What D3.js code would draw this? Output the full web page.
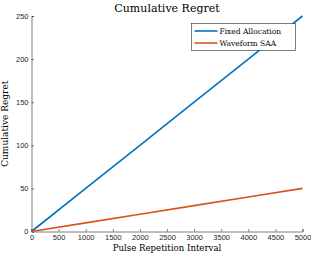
<!DOCTYPE html>
<html>
<head>
<meta charset="utf-8">
<script src="https://cdn.jsdelivr.net/npm/d3@7"></script>
<style>
body { margin: 0; background: #fff; }
.tick text { font-family: "Liberation Sans", Arial, sans-serif; font-size: 7.5px; fill: #262626; }
.lab { font-family: "DejaVu Serif", serif; fill: #000; font-weight: normal; }
</style>
</head>
<body>
<svg id="chart" width="311" height="257"></svg>
<script>
// chart values
const pri = [0, 1000, 2000, 3000, 4000, 5000];
const fixedAllocation = [0, 50, 100, 150, 200, 250];
const waveformSAA = [0, 10, 20, 30, 40, 50];
const xTicks = [0, 500, 1000, 1500, 2000, 2500, 3000, 3500, 4000, 4500, 5000];
const yTicks = [0, 50, 100, 150, 200, 250];
const seriesNames = ["Fixed Allocation", "Waveform SAA"];
const seriesColors = ["#0072BD", "#D95319"];

const svg = d3.select("#chart");
const margin = {left: 31.5, right: 8.5, top: 16, bottom: 25.5};
const width = 311 - margin.left - margin.right;
const height = 257 - margin.top - margin.bottom;

const x = d3.scaleLinear().domain([0, 5000]).range([0, width]);
const y = d3.scaleLinear().domain([0, 250]).range([height, 0]);

const g = svg.append("g").attr("transform", `translate(${margin.left},${margin.top})`);

const xAxis = g.append("g")
	.attr("transform", `translate(0,${height})`)
	.call(d3.axisBottom(x).tickValues(xTicks).tickSize(-2.5).tickPadding(3).tickFormat(d3.format("d")));
const yAxis = g.append("g")
	.call(d3.axisLeft(y).tickValues(yTicks).tickSize(-2.5).tickPadding(3).tickFormat(d3.format("d")));

[xAxis, yAxis].forEach(a => {
	a.select(".domain").attr("stroke", "#262626").attr("stroke-width", 0.6);
	a.selectAll(".tick line").attr("stroke", "#262626").attr("stroke-width", 0.6);
});

const line = d3.line()
	.x((d, i) => x(pri[i]))
	.y(d => y(d));

[fixedAllocation, waveformSAA].forEach((vals, i) => {
	g.append("path")
		.datum(vals)
		.attr("fill", "none")
		.attr("stroke", seriesColors[i])
		.attr("stroke-width", 1.6)
		.attr("d", line);
});

// title and labels
svg.append("text").attr("class", "lab")
	.attr("x", margin.left + width / 2).attr("y", 12)
	.attr("text-anchor", "middle").attr("font-size", 11)
	.text("Cumulative Regret");
svg.append("text").attr("class", "lab")
	.attr("x", margin.left + width / 2).attr("y", 251)
	.attr("text-anchor", "middle").attr("font-size", 8.6)
	.text("Pulse Repetition Interval");
svg.append("text").attr("class", "lab")
	.attr("transform", `translate(8,${margin.top + height / 2}) rotate(-90)`)
	.attr("text-anchor", "middle").attr("font-size", 9)
	.text("Cumulative Regret");

// legend
const legend = svg.append("g").attr("transform", "translate(191.5,23.5)");
legend.append("rect")
	.attr("width", 104).attr("height", 27)
	.attr("fill", "#fff").attr("stroke", "#262626").attr("stroke-width", 0.6);
seriesNames.forEach((name, i) => {
	const row = legend.append("g").attr("transform", `translate(0,${7.5 + i * 12})`);
	row.append("line")
		.attr("x1", 3).attr("x2", 26).attr("y1", 0).attr("y2", 0)
		.attr("stroke", seriesColors[i]).attr("stroke-width", 1.6);
	row.append("text").attr("class", "lab")
		.attr("x", 28).attr("y", 3)
		.attr("font-size", 7.5)
		.text(name);
});
</script>
</body>
</html>
